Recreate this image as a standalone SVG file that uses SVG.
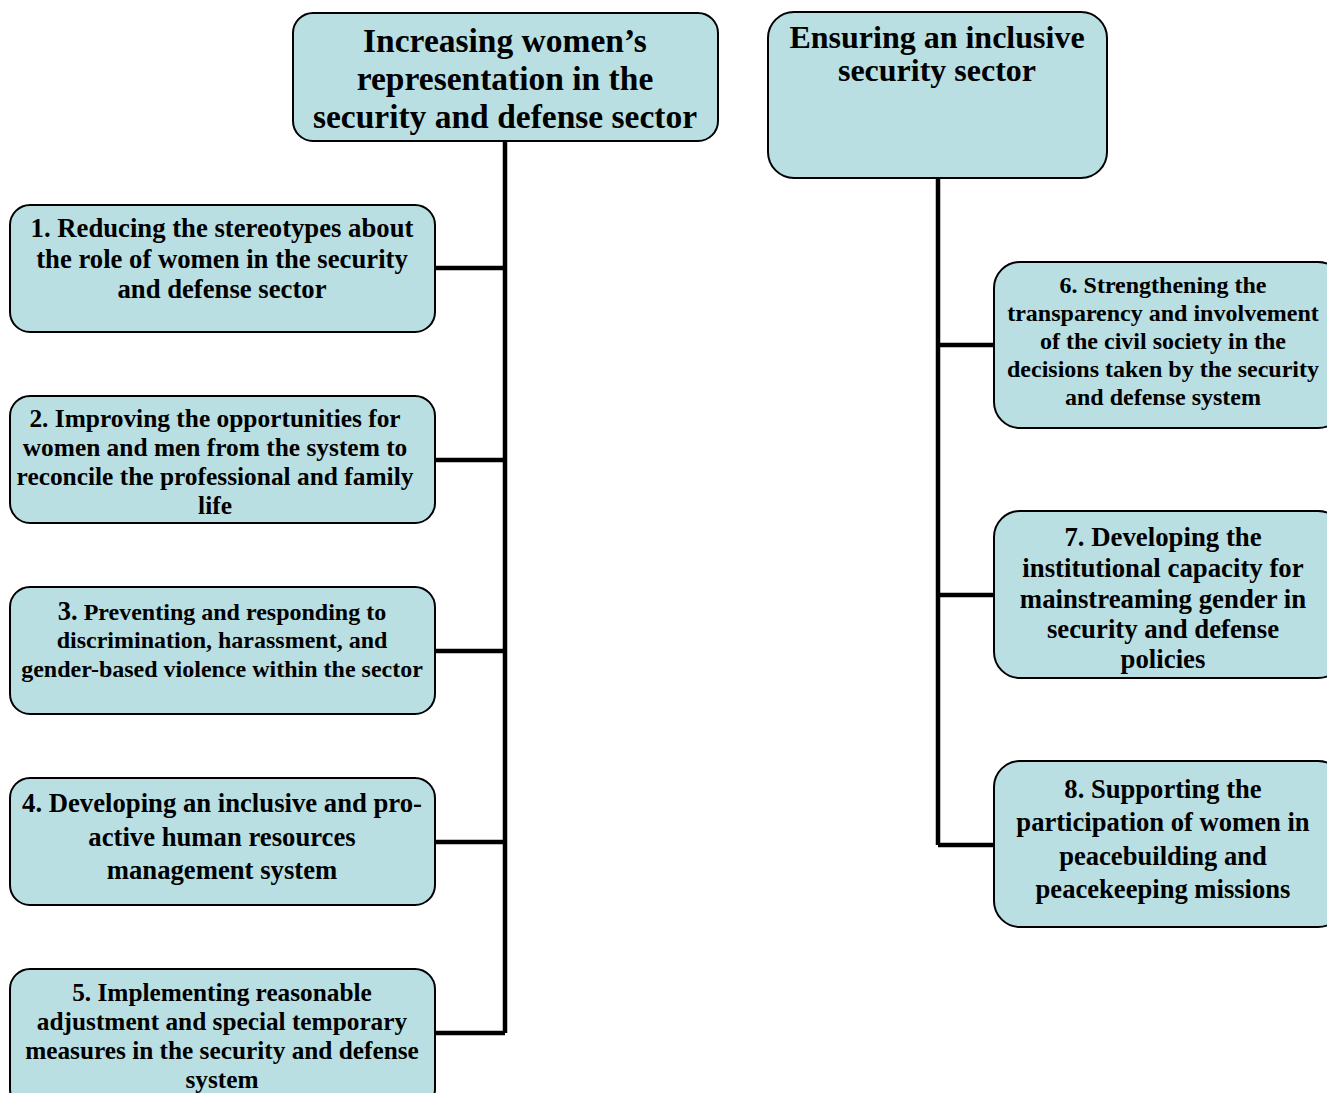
<svg xmlns="http://www.w3.org/2000/svg" width="1327" height="1093" viewBox="0 0 1327 1093">
<style>
.box{fill:#B9DFE3;stroke:#000;stroke-width:2}
text{font-family:"Liberation Serif","Times New Roman",serif;font-weight:bold;fill:#000;text-anchor:middle}
.line{stroke:#000;stroke-width:4.5;fill:none}
</style>
<rect width="1327" height="1093" fill="#fff"/>
<g id="connectors">
<path class="line" d="M505 141 V1033 M435 268 H505 M435 460 H505 M435 651 H505 M435 842 H505 M435 1033 H505"/>
<path class="line" d="M938 178 V845 M938 345 H994 M938 595 H994 M938 845 H994"/>
</g>
<g id="nodeA" font-size="33.5"><rect class="box" x="293" y="13" width="425" height="128" rx="20"/>
<text x="505" y="52">Increasing women’s</text>
<text x="505" y="90">representation in the</text>
<text x="505" y="128">security and defense sector</text></g>
<g id="nodeB" font-size="32"><rect class="box" x="768" y="12" width="339" height="166" rx="26"/>
<text x="937" y="48">Ensuring an inclusive</text>
<text x="937" y="81">security sector</text></g>
<g id="node1" font-size="26.7"><rect class="box" x="10" y="205" width="425" height="127" rx="20"/>
<text x="222" y="237">1. Reducing the stereotypes about</text>
<text x="222" y="268">the role of women in the security</text>
<text x="222" y="298">and defense sector</text></g>
<g id="node2" font-size="25.4"><rect class="box" x="10" y="396" width="425" height="127" rx="20"/>
<text x="215" y="427">2. Improving the opportunities for</text>
<text x="215" y="456">women and men from the system to</text>
<text x="215" y="485">reconcile the professional and family</text>
<text x="215" y="514">life</text></g>
<g id="node3" font-size="24"><rect class="box" x="10" y="587" width="425" height="127" rx="20"/>
<text x="222" y="620"><tspan font-size="26.5">3.</tspan> Preventing and responding to</text>
<text x="222" y="648">discrimination, harassment, and</text>
<text x="222" y="677">gender-based violence within the sector</text></g>
<g id="node4" font-size="26.7"><rect class="box" x="10" y="778" width="425" height="127" rx="20"/>
<text x="222" y="812">4. Developing an inclusive and pro-</text>
<text x="222" y="846">active human resources</text>
<text x="222" y="879">management system</text></g>
<g id="node5" font-size="25.3"><rect class="box" x="10" y="969" width="425" height="140" rx="20"/>
<text x="222" y="1001">5. Implementing reasonable</text>
<text x="222" y="1030">adjustment and special temporary</text>
<text x="222" y="1059">measures in the security and defense</text>
<text x="222" y="1088">system</text></g>
<g id="node6" font-size="24"><rect class="box" x="994" y="262" width="350" height="166" rx="26"/>
<text x="1163" y="293">6. Strengthening the</text>
<text x="1163" y="321">transparency and involvement</text>
<text x="1163" y="349">of the civil society in the</text>
<text x="1163" y="377">decisions taken by the security</text>
<text x="1163" y="405">and defense system</text></g>
<g id="node7" font-size="26.8"><rect class="box" x="994" y="511" width="350" height="167" rx="26"/>
<text x="1163" y="546">7. Developing the</text>
<text x="1163" y="577">institutional capacity for</text>
<text x="1163" y="608">mainstreaming gender in</text>
<text x="1163" y="638">security and defense</text>
<text x="1163" y="668">policies</text></g>
<g id="node8" font-size="26.6"><rect class="box" x="994" y="761" width="350" height="166" rx="26"/>
<text x="1163" y="798">8. Supporting the</text>
<text x="1163" y="831">participation of women in</text>
<text x="1163" y="865">peacebuilding and</text>
<text x="1163" y="898">peacekeeping missions</text></g>
</svg>
